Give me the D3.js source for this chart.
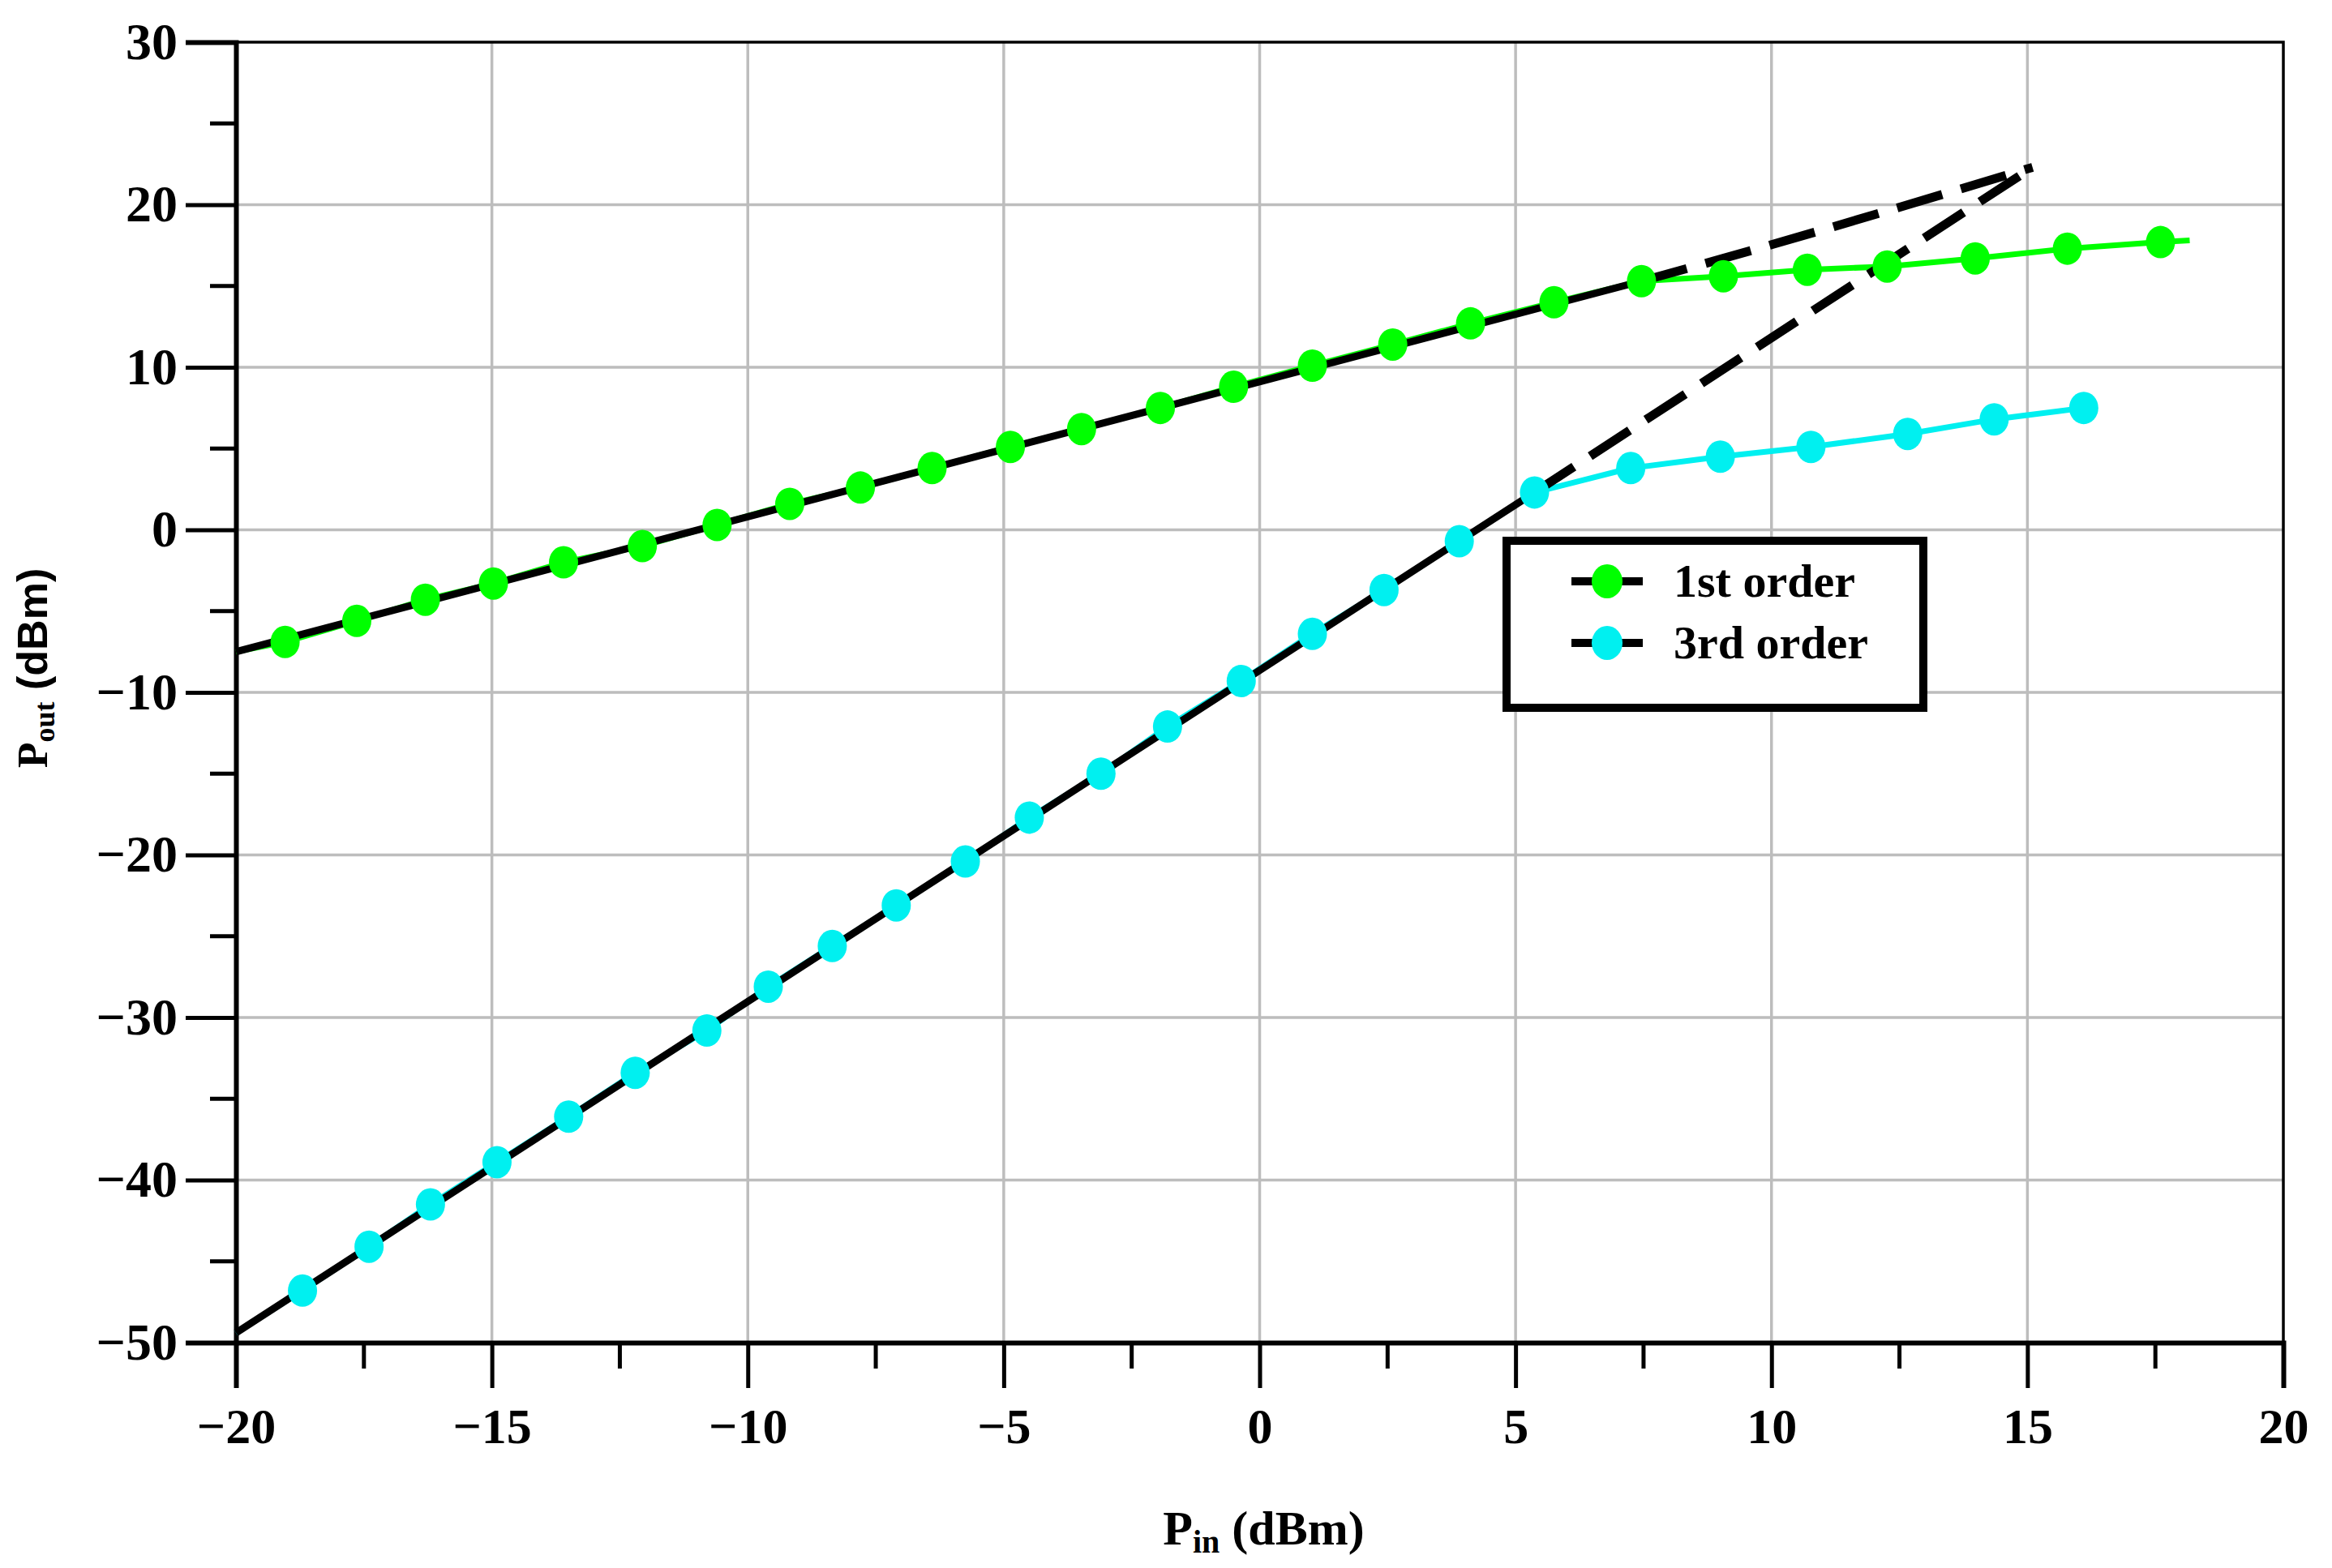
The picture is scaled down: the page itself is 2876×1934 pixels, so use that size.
<!DOCTYPE html>
<html><head><meta charset="utf-8">
<script src="https://cdn.jsdelivr.net/npm/d3@7"></script>
<style>body{margin:0;background:#fff}</style></head>
<body><svg id="c" width="2876" height="1934"></svg>
<script>
const firstX=[-19.04,-17.64,-16.3,-14.97,-13.6,-12.06,-10.6,-9.18,-7.8,-6.4,-4.87,-3.48,-1.94,-0.51,1.03,2.6,4.12,5.75,7.46,9.06,10.7,12.26,13.98,15.78,17.6];
const firstY=[-6.9,-5.6,-4.3,-3.3,-2.0,-1.0,0.3,1.6,2.6,3.8,5.1,6.2,7.5,8.8,10.1,11.4,12.7,14.0,15.3,15.6,16.0,16.2,16.7,17.3,17.7];
const firstLineStart=[-20,-7.5], firstLineEnd=[18.17,17.8];
const thirdX=[-18.7,-17.4,-16.2,-14.9,-13.5,-12.2,-10.8,-9.6,-8.35,-7.1,-5.75,-4.5,-3.1,-1.8,-0.36,1.03,2.43,3.9,5.37,7.25,9.0,10.77,12.66,14.35,16.1];
const thirdY=[-46.8,-44.1,-41.5,-38.9,-36.1,-33.4,-30.8,-28.1,-25.6,-23.1,-20.4,-17.7,-15.0,-12.1,-9.3,-6.4,-3.7,-0.7,2.3,3.8,4.5,5.1,5.9,6.8,7.5];
const thirdLineStart=[-20,-49.4];
const fit1Solid=[[-20,-7.5],[7.46,15.3]], fit1Dash=[[7.46,15.3],[9.06,16.7],[15.1,22.3]];
const fit3Solid=[[-20,-49.4],[5.37,2.3]], fit3Dash=[[5.37,2.3],[15.1,22.3]];
const xTicks=[-20,-15,-10,-5,0,5,10,15,20];
const yTicks=[30,20,10,0,-10,-20,-30,-40,-50];
const legendLabels=["1st order","3rd order"];
const colors=["#00ff00","#00f0f0"];

const svg=d3.select("#c");
const L=291,R=2816,T=52,B=1656;
const x=d3.scaleLinear().domain([-20,20]).range([L,R]);
const y=d3.scaleLinear().domain([-50,30]).range([B,T]);
const serif="'Liberation Serif','Times New Roman',serif";

const g=svg.append("g");
g.selectAll(".gx").data(xTicks.slice(1,-1)).enter().append("line")
 .attr("x1",d=>x(d)).attr("x2",d=>x(d)).attr("y1",T).attr("y2",B)
 .attr("stroke","#bdbdbd").attr("stroke-width",3.5);
g.selectAll(".gy").data(yTicks.slice(1,-1)).enter().append("line")
 .attr("y1",d=>y(d)).attr("y2",d=>y(d)).attr("x1",L).attr("x2",R)
 .attr("stroke","#bdbdbd").attr("stroke-width",3.5);
svg.append("rect").attr("x",L).attr("y",T).attr("width",R-L).attr("height",B-T)
 .attr("fill","none").attr("stroke","#000").attr("stroke-width",3.5);

const xMinor=d3.range(-20,20.1,2.5).filter(v=>v%5!==0);
const yMinor=d3.range(-45,30,10);
const ax=svg.append("g").attr("transform",`translate(0,${B})`)
 .call(d3.axisBottom(x).tickValues(xTicks).tickSize(56).tickPadding(24).tickFormat(d=>d<0?"\u2212"+(-d):d));
ax.select(".domain").attr("stroke-width",6);
ax.selectAll(".tick line").attr("stroke-width",5);
ax.selectAll("text").attr("font-family",serif).attr("font-weight","bold").attr("font-size",62).attr("fill","#000");
svg.append("g").attr("transform",`translate(0,${B})`).selectAll("line").data(xMinor).enter().append("line")
 .attr("x1",d=>x(d)).attr("x2",d=>x(d)).attr("y1",0).attr("y2",32).attr("stroke","#000").attr("stroke-width",5);
const ay=svg.append("g").attr("transform",`translate(${L},0)`)
 .call(d3.axisLeft(y).tickValues(yTicks).tickSize(62).tickPadding(10).tickFormat(d=>d<0?"\u2212"+(-d):d));
ay.select(".domain").attr("stroke-width",6);
ay.selectAll(".tick line").attr("stroke-width",5);
ay.selectAll("text").attr("font-family",serif).attr("font-weight","bold").attr("font-size",64).attr("fill","#000");
svg.append("g").attr("transform",`translate(${L},0)`).selectAll("line").data(yMinor).enter().append("line")
 .attr("y1",d=>y(d)).attr("y2",d=>y(d)).attr("x1",0).attr("x2",-32).attr("stroke","#000").attr("stroke-width",5);

const xt=svg.append("text").attr("x",(L+R)/2+5).attr("y",1905).attr("text-anchor","middle")
 .attr("font-family",serif).attr("font-weight","bold").attr("font-size",60);
xt.append("tspan").text("P");
xt.append("tspan").attr("font-size",40).attr("dy",10).text("in");
xt.append("tspan").attr("dy",-10).text(" (dBm)");
const yt=svg.append("text").attr("transform",`translate(58,${(T+B)/2-30}) rotate(-90)`).attr("text-anchor","middle")
 .attr("font-family","'Liberation Sans',Arial,sans-serif").attr("font-weight","bold").attr("font-size",52);
yt.append("tspan").attr("font-family",serif).text("P");
yt.append("tspan").attr("font-family",serif).attr("font-size",36).attr("dy",9).text("out");
yt.append("tspan").attr("dy",-9).text(" (dBm)");

const line=d3.line().x(d=>x(d[0])).y(d=>y(d[1]));
const curve=d3.line().x(d=>x(d[0])).y(d=>y(d[1])).curve(d3.curveMonotoneX);
const s1=[firstLineStart].concat(firstX.map((v,i)=>[v,firstY[i]])).concat([firstLineEnd]);
const s3=[thirdLineStart].concat(thirdX.map((v,i)=>[v,thirdY[i]]));
svg.append("path").attr("d",line(s1)).attr("fill","none").attr("stroke",colors[0]).attr("stroke-width",7);
svg.append("path").attr("d",line(s3)).attr("fill","none").attr("stroke",colors[1]).attr("stroke-width",7);
[fit1Solid,fit3Solid].forEach(p=>svg.append("path").attr("d",line(p)).attr("fill","none").attr("stroke","#000").attr("stroke-width",9));
[fit1Dash,fit3Dash].forEach(p=>svg.append("path").attr("d",curve(p)).attr("fill","none").attr("stroke","#000").attr("stroke-width",11).attr("stroke-dasharray","58,24"));
svg.append("g").selectAll("ellipse").data(firstX.map((v,i)=>[v,firstY[i]])).enter().append("ellipse")
 .attr("cx",d=>x(d[0])).attr("cy",d=>y(d[1])).attr("rx",18).attr("ry",20).attr("fill",colors[0]);
svg.append("g").selectAll("ellipse").data(thirdX.map((v,i)=>[v,thirdY[i]])).enter().append("ellipse")
 .attr("cx",d=>x(d[0])).attr("cy",d=>y(d[1])).attr("rx",18).attr("ry",20).attr("fill",colors[1]);

const lg=svg.append("g").attr("transform","translate(1858,667)");
lg.append("rect").attr("x",0).attr("y",0).attr("width",514).attr("height",206).attr("fill","#fff").attr("stroke","#000").attr("stroke-width",10);
legendLabels.forEach((t,i)=>{
  const cy=50+i*76;
  lg.append("line").attr("x1",80).attr("x2",168).attr("y1",cy).attr("y2",cy).attr("stroke","#000").attr("stroke-width",10);
  lg.append("ellipse").attr("cx",124).attr("cy",cy).attr("rx",19).attr("ry",21).attr("fill",colors[i]);
  lg.append("text").attr("x",206).attr("y",cy+19).attr("font-family",serif).attr("font-weight","bold").attr("font-size",58).text(t);
});
</script></body></html>
